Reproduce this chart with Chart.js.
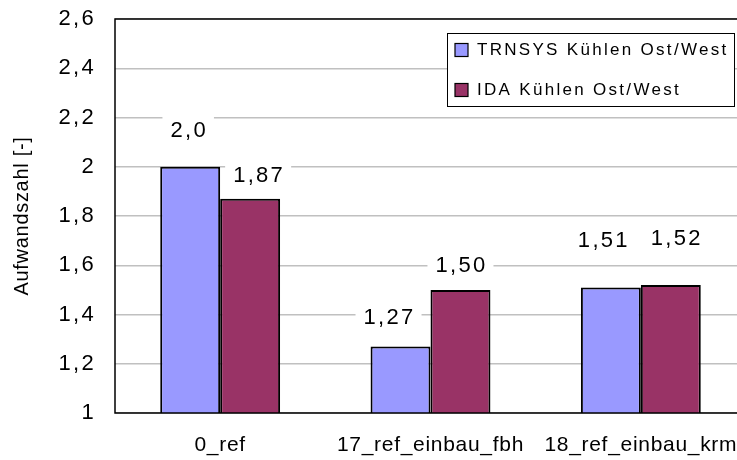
<!DOCTYPE html>
<html>
<head>
<meta charset="utf-8">
<script src="https://cdn.jsdelivr.net/npm/chart.js@4"></script>
<style>
  html, body { margin: 0; padding: 0; overflow: hidden; background: #fff; }
  canvas { display: block; }
</style>
</head>
<body>
<canvas id="c" width="760" height="460"></canvas>
<script>
// Aufwandszahl comparison, TRNSYS vs IDA (cooling east/west)
const categories = ['0_ref', '17_ref_einbau_fbh', '18_ref_einbau_krm'];
const seriesNames = ['TRNSYS Kühlen Ost/West', 'IDA Kühlen Ost/West'];
const trnsysValues = [2.0, 1.27, 1.51];
const idaValues = [1.87, 1.50, 1.52];
const trnsysDecimals = [1, 2, 2];
const idaDecimals = [2, 2, 2];
const yTicks = [1, 1.2, 1.4, 1.6, 1.8, 2, 2.2, 2.4, 2.6];

const FONT = "'Liberation Sans', Arial, Helvetica, sans-serif";
const BASE_SPACING = '0.7px';   // category labels and axis title
const NUM_SPACING = '2.3px';    // y tick numbers and value labels
const LEGEND_SPACING = '2.3px';

// label placement relative to each bar top (dx, dy), per series and category
const labelShift = [
  [[-2, -36], [-12, -29], [-8, -46]],
  [[8, -23], [0, -24], [5, -46]]
];

function fmt(v, d) {
  return v.toFixed(d).replace('.', ',');
}
function tickText(v) {
  const r = Math.round(v * 10) / 10;
  return String(r).replace('.', ',');
}

const decor = {
  id: 'decor',
  beforeDraw(chart) {
    chart.ctx.letterSpacing = BASE_SPACING;
    // wider tracking for the numeric y labels
    const ys = chart.scales.y;
    if (ys && !ys._tracked) {
      const orig = ys.drawLabels;
      ys.drawLabels = function (area) {
        const c = this.ctx;
        const prev = c.letterSpacing;
        c.letterSpacing = NUM_SPACING;
        orig.call(this, area);
        c.letterSpacing = prev;
      };
      ys._tracked = true;
    }
  },
  afterDatasetsDraw(chart) {
    const ctx = chart.ctx;
    const a = chart.chartArea;
    ctx.save();
    ctx.letterSpacing = NUM_SPACING;

    // value labels on white boxes
    ctx.font = '22px ' + FONT;
    ctx.textAlign = 'center';
    ctx.textBaseline = 'middle';
    chart.data.datasets.forEach((ds, i) => {
      const meta = chart.getDatasetMeta(i);
      meta.data.forEach((bar, j) => {
        const txt = fmt(ds.data[j], ds.decimals[j]);
        const [dx, dy] = labelShift[i][j];
        const x = bar.x + dx, y = bar.y + dy;
        const w = ctx.measureText(txt).width + 14;
        ctx.fillStyle = '#fff';
        ctx.fillRect(x - w / 2, y - 15, w, 30);
        ctx.fillStyle = '#000';
        ctx.fillText(txt, x + 1, y);
      });
    });

    // plot frame
    ctx.strokeStyle = '#000';
    ctx.lineWidth = 1.5;
    ctx.strokeRect(a.left, a.top, a.right - a.left, a.bottom - a.top);

    // legend box inside the plot
    const lx = a.left + 332, ly = a.top + 14, lw = 287, lh = 73;
    ctx.fillStyle = '#fff';
    ctx.fillRect(lx, ly, lw, lh);
    ctx.lineWidth = 1;
    ctx.strokeRect(lx + 0.5, ly + 0.5, lw, lh);
    ctx.font = '17px ' + FONT;
    ctx.letterSpacing = LEGEND_SPACING;
    ctx.textAlign = 'left';
    ctx.textBaseline = 'middle';
    chart.data.datasets.forEach((ds, i) => {
      const cy = ly + 17 + i * 40;
      ctx.fillStyle = ds.backgroundColor;
      ctx.fillRect(lx + 8, cy - 6.5, 13, 13);
      ctx.strokeStyle = '#000';
      ctx.lineWidth = 1.2;
      ctx.strokeRect(lx + 8, cy - 6.5, 13, 13);
      ctx.fillStyle = '#000';
      ctx.fillText(ds.label, lx + 30, cy);
    });
    ctx.restore();
  }
};

new Chart(document.getElementById('c'), {
  type: 'bar',
  data: {
    labels: categories,
    datasets: [
      {
        label: seriesNames[0],
        data: trnsysValues,
        decimals: trnsysDecimals,
        backgroundColor: '#9999FF',
        borderColor: '#000',
        borderWidth: 2,
        categoryPercentage: 0.57,
        barPercentage: 1.0
      },
      {
        label: seriesNames[1],
        data: idaValues,
        decimals: idaDecimals,
        backgroundColor: '#993366',
        borderColor: '#000',
        borderWidth: 2,
        categoryPercentage: 0.57,
        barPercentage: 1.0
      }
    ]
  },
  options: {
    responsive: false,
    animation: false,
    layout: { padding: { left: 0, top: 19, right: 14, bottom: 0 } },
    plugins: {
      legend: { display: false },
      tooltip: { enabled: false }
    },
    scales: {
      x: {
        grid: { display: false, drawTicks: false },
        border: { display: false },
        ticks: {
          color: '#000',
          padding: 20,
          maxRotation: 0,
          autoSkip: false,
          font: { family: FONT, size: 21 }
        },
        afterFit(scale) { scale.height = 47; }
      },
      y: {
        min: 1,
        max: 2.6,
        afterBuildTicks(scale) {
          scale.ticks = yTicks.map(v => ({ value: v }));
        },
        grid: { color: '#c0c0c0', lineWidth: 1.5, drawTicks: false },
        border: { display: false },
        ticks: {
          color: '#000',
          padding: 19,
          font: { family: FONT, size: 22 },
          callback: v => tickText(v)
        },
        title: {
          display: true,
          text: 'Aufwandszahl [-]',
          color: '#000',
          font: { family: FONT, size: 20 },
          padding: { top: 10, bottom: 0 }
        },
        afterFit(scale) {
          scale.width = 115;
          scale.paddingTop = 0;
          scale.paddingBottom = 0;
        }
      }
    }
  },
  plugins: [decor]
});
</script>
</body>
</html>
